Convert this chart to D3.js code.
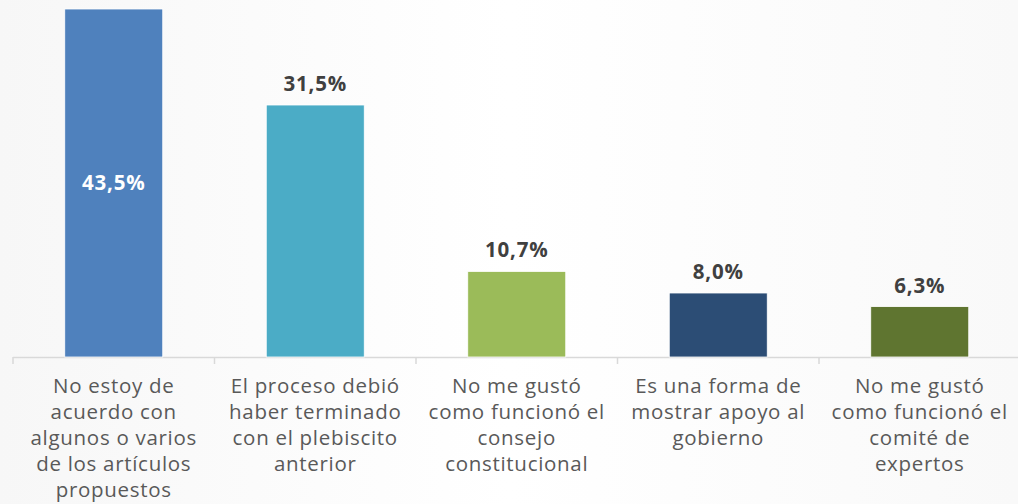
<!DOCTYPE html>
<html>
<head>
<meta charset="utf-8">
<script src="https://cdn.jsdelivr.net/npm/d3@7"></script>
<style>
  html, body { margin: 0; padding: 0; background: #fff; }
  svg { display: block; }
</style>
</head>
<body>
<div id="chart"></div>
<script>
// categories, line breaks as in the original
const categories = [
  "No estoy de|acuerdo con|algunos o varios|de los artículos|propuestos",
  "El proceso debió|haber terminado|con el plebiscito|anterior",
  "No me gustó|como funcionó el|consejo|constitucional",
  "Es una forma de|mostrar apoyo al|gobierno",
  "No me gustó|como funcionó el|comité de|expertos"
];
const values = [43.5, 31.5, 10.7, 8.0, 6.3];
const colors = ["#4f81bd", "#4bacc6", "#9bbb59", "#2c4d75", "#5f7530"];

const width = 1018, height = 504;
const baseY = 357;

const svg = d3.select("#chart").append("svg")
  .attr("width", width).attr("height", height);

// faint background wash
const defs = svg.append("defs");
const grad = defs.append("linearGradient").attr("id", "bg").attr("x1", 0).attr("x2", 1).attr("y1", 0).attr("y2", 0);
grad.append("stop").attr("offset", "0%").attr("stop-color", "#f7f7f7");
grad.append("stop").attr("offset", "50%").attr("stop-color", "#ffffff");
grad.append("stop").attr("offset", "100%").attr("stop-color", "#f9f9f9");
svg.append("rect").attr("width", width).attr("height", height).attr("fill", "url(#bg)");

const x = d3.scaleBand()
  .domain(categories)
  .range([13, 13 + 201.5 * categories.length])
  .paddingInner(0).paddingOuter(0);

const y = d3.scaleLinear().domain([0, 43.5]).range([baseY, 9]);

const barW = 98;

// axis line and ticks between categories
svg.append("line")
  .attr("x1", 13).attr("x2", width).attr("y1", baseY + 0.5).attr("y2", baseY + 0.5)
  .attr("stroke", "#d9d9d9").attr("stroke-width", 1.5);

svg.selectAll("line.tick").data(categories).enter().append("line")
  .attr("class", "tick")
  .attr("x1", d => x(d)).attr("x2", d => x(d))
  .attr("y1", baseY).attr("y2", baseY + 7)
  .attr("stroke", "#d9d9d9").attr("stroke-width", 1.5);

svg.selectAll("rect.bar").data(values).enter().append("rect")
  .attr("class", "bar")
  .attr("x", (d, i) => x(categories[i]) + x.bandwidth() / 2 - barW / 2)
  .attr("width", barW)
  .attr("y", d => y(d))
  .attr("height", d => baseY - y(d))
  .attr("fill", (d, i) => colors[i])
  .attr("stroke", "#ffffff").attr("stroke-width", 0.8);

const fmt = v => v.toFixed(1).replace(".", ",") + "%";

svg.selectAll("text.val").data(values).enter().append("text")
  .attr("class", "val")
  .attr("x", (d, i) => x(categories[i]) + x.bandwidth() / 2)
  .attr("y", (d, i) => i == 0 ? (y(d) + baseY) / 2 + 7 : y(d) - 14)
  .attr("text-anchor", "middle")
  .attr("font-family", "'Open Sans', sans-serif")
  .attr("font-weight", "bold")
  .attr("font-size", "20.5px")
  .attr("letter-spacing", "0.8px")
  .attr("fill", (d, i) => i == 0 ? "#ffffff" : "#404040")
  .text(d => fmt(d));

const lab = svg.selectAll("text.cat").data(categories).enter().append("text")
  .attr("class", "cat")
  .attr("text-anchor", "middle")
  .attr("font-family", "'Open Sans', sans-serif")
  .attr("font-size", "20.5px")
  .attr("letter-spacing", "0.7px")
  .attr("fill", "#595959");

lab.each(function(d) {
  const t = d3.select(this);
  d.split("|").forEach((line, j) => {
    t.append("tspan")
      .attr("x", x(d) + x.bandwidth() / 2)
      .attr("y", baseY + 36 + j * 26)
      .text(line);
  });
});
</script>
</body>
</html>
